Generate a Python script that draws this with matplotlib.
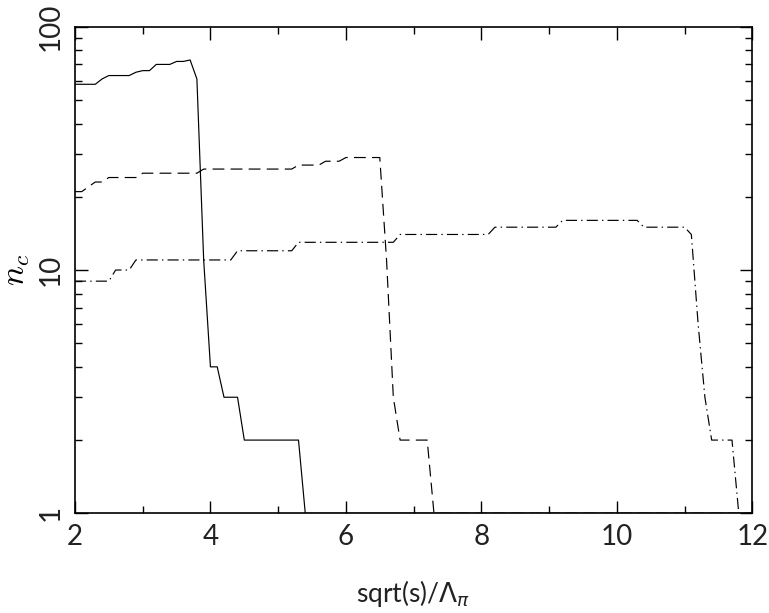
import matplotlib
matplotlib.use("Agg")
import matplotlib.pyplot as plt
from matplotlib.ticker import FixedLocator, NullFormatter

plt.rcParams['lines.scale_dashes'] = False
plt.rcParams['font.family'] = ['Lato', 'DejaVu Sans']

# Solid curve
x_solid = [2.0, 2.3, 2.4, 2.5, 2.8, 2.9, 3.0, 3.1, 3.2, 3.4, 3.5, 3.6, 3.7, 3.8, 3.9, 4.0, 4.1, 4.2, 4.4, 4.5, 5.3, 5.4, 12.0]
y_solid = [58, 58, 61, 63, 63, 65, 66, 66, 70, 70, 72, 72, 73, 61, 11, 4, 4, 3, 3, 2, 2, 1, 1]

# Dashed curve
x_dash = [2.0, 2.1, 2.2, 2.3, 2.4, 2.5, 2.9, 3.0, 3.8, 3.9, 5.2, 5.3, 5.6, 5.7, 5.9, 6.0, 6.5, 6.6, 6.7, 6.8, 7.2, 7.3, 12.0]
y_dash = [21, 21, 22, 23, 23, 24, 24, 25, 25, 26, 26, 27, 27, 28, 28, 29, 29, 11, 3, 2, 2, 1, 1]

# Dash-dot curve
x_dd = [2.0, 2.5, 2.6, 2.8, 2.9, 4.3, 4.4, 5.2, 5.3, 6.7, 6.8, 8.1, 8.2, 9.1, 9.2, 10.3, 10.4, 11.0, 11.1, 11.2, 11.3, 11.4, 11.7, 11.8, 12.0]
y_dd = [9, 9, 10, 10, 11, 11, 12, 12, 13, 13, 14, 14, 15, 15, 16, 16, 15, 15, 14, 6, 3, 2, 2, 1, 1]

x_major = [2, 4, 6, 8, 10, 12]
x_minor = [3, 5, 7, 9, 11]
y_major = [1, 10, 100]
y_labels = ['1', '10', '100']
y_minor = [2, 3, 4, 5, 6, 7, 8, 9, 20, 30, 40, 50, 60, 70, 80, 90]

fig = plt.figure(figsize=(7.69, 6.13), dpi=100)
ax = fig.add_axes([0.0975, 0.1626, 0.8808, 0.7938])

lw = 0.85
ax.plot(x_solid, y_solid, color='black', lw=lw, linestyle='-')
ax.plot(x_dash, y_dash, color='black', lw=lw, linestyle=(0, (8.5, 4.5)))
ax.plot(x_dd, y_dd, color='black', lw=lw, linestyle=(0, (8.0, 3.0, 1.0, 3.0)))

ax.set_yscale('log')
ax.set_xlim(2, 12)
ax.set_ylim(1, 100)

ax.xaxis.set_major_locator(FixedLocator(x_major))
ax.xaxis.set_minor_locator(FixedLocator(x_minor))
ax.set_xticklabels([str(v) for v in x_major])
ax.yaxis.set_major_locator(FixedLocator(y_major))
ax.yaxis.set_minor_locator(FixedLocator(y_minor))
ax.yaxis.set_minor_formatter(NullFormatter())
ax.set_yticklabels(y_labels, rotation=90, va='center')

ax.tick_params(which='both', direction='in', top=True, right=True, width=1.0, color='black')
ax.tick_params(which='major', length=9, labelsize=20, pad=8, labelcolor='#222222')
ax.tick_params(which='minor', length=5)

for s in ax.spines.values():
    s.set_linewidth(1.2)

ax.set_xlabel(r'sqrt(s)/$\Lambda_\pi$', fontsize=19, labelpad=20, color='#222222',
              math_fontfamily='dejavusans')
ax.set_ylabel(r'$n_c$', fontsize=24, labelpad=4, math_fontfamily='cm')

fig.savefig('out.png', dpi=100)
